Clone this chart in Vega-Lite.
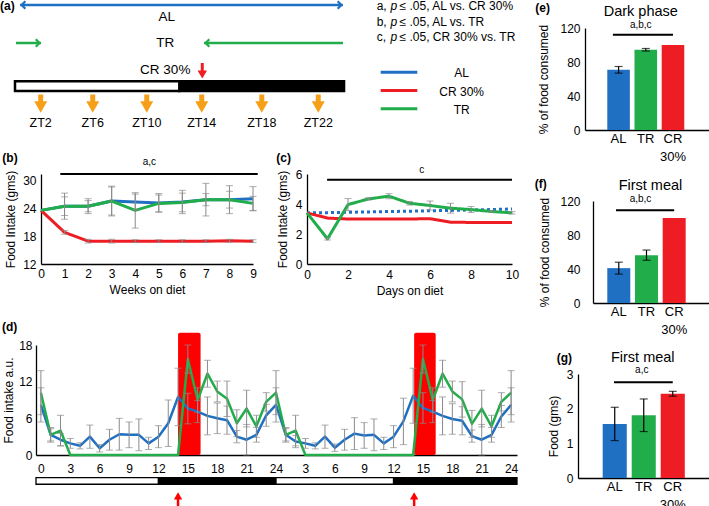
{
"$schema": "https://vega.github.io/schema/vega-lite/v6.json",
"padding": 0,
"background": "white",
"config": {
  "font": "Liberation Sans",
  "view": {"stroke": null},
  "axis": {"grid": false, "ticks": false, "domainColor": "#000", "domainWidth": 1.3, "labelColor": "#000", "labelFontSize": 12, "titleFontSize": 12, "titleFontWeight": "normal", "titleColor": "#000", "labelFont": "Liberation Sans", "titleFont": "Liberation Sans", "labelPadding": 4, "titlePadding": 5, "labelOverlap": false, "labelFlush": false, "labelBound": false},
  "text": {"font": "Liberation Sans", "color": "#000"}
},
"datasets": {
  "weeks": [
    {"week":0,"group":"AL","intake":23.5,"err":0},{"week":1,"group":"AL","intake":24.4,"err":2.0},{"week":2,"group":"AL","intake":24.4,"err":1.6},{"week":3,"group":"AL","intake":25.5,"err":3.2},{"week":4,"group":"AL","intake":25.3,"err":1.7},{"week":5,"group":"AL","intake":25.1,"err":2.0},{"week":6,"group":"AL","intake":25.3,"err":2.5},{"week":7,"group":"AL","intake":25.8,"err":3.5},{"week":8,"group":"AL","intake":25.8,"err":3.0},{"week":9,"group":"AL","intake":26.0,"err":2.6},
    {"week":0,"group":"CR 30%","intake":23.5,"err":0},{"week":1,"group":"CR 30%","intake":18.8,"err":0.4},{"week":2,"group":"CR 30%","intake":16.9,"err":0.4},{"week":3,"group":"CR 30%","intake":16.9,"err":0.4},{"week":4,"group":"CR 30%","intake":16.9,"err":0.3},{"week":5,"group":"CR 30%","intake":16.9,"err":0.3},{"week":6,"group":"CR 30%","intake":16.9,"err":0.3},{"week":7,"group":"CR 30%","intake":16.9,"err":0.3},{"week":8,"group":"CR 30%","intake":17.0,"err":0.3},{"week":9,"group":"CR 30%","intake":16.9,"err":0.3},
    {"week":0,"group":"TR","intake":23.5,"err":0},{"week":1,"group":"TR","intake":24.4,"err":2.8},{"week":2,"group":"TR","intake":24.4,"err":1.2},{"week":3,"group":"TR","intake":25.5,"err":3.0},{"week":4,"group":"TR","intake":23.5,"err":3.8},{"week":5,"group":"TR","intake":25.0,"err":1.8},{"week":6,"group":"TR","intake":25.2,"err":2.0},{"week":7,"group":"TR","intake":25.8,"err":1.3},{"week":8,"group":"TR","intake":25.8,"err":1.8},{"week":9,"group":"TR","intake":25.0,"err":1.5}
  ],
  "days": [
    {"day":0,"group":"AL","intake":3.41,"err":0},{"day":1,"group":"AL","intake":3.42,"err":0},{"day":2,"group":"AL","intake":3.45,"err":0},{"day":3,"group":"AL","intake":3.47,"err":0},{"day":4,"group":"AL","intake":3.5,"err":0},{"day":5,"group":"AL","intake":3.52,"err":0},{"day":6,"group":"AL","intake":3.55,"err":0},{"day":7,"group":"AL","intake":3.57,"err":0},{"day":8,"group":"AL","intake":3.6,"err":0},{"day":9,"group":"AL","intake":3.63,"err":0},{"day":10,"group":"AL","intake":3.67,"err":0},
    {"day":0,"group":"CR 30%","intake":3.41,"err":0},{"day":1,"group":"CR 30%","intake":3.06,"err":0},{"day":2,"group":"CR 30%","intake":3.0,"err":0},{"day":3,"group":"CR 30%","intake":3.0,"err":0},{"day":4,"group":"CR 30%","intake":3.0,"err":0},{"day":5,"group":"CR 30%","intake":3.0,"err":0},{"day":6,"group":"CR 30%","intake":3.02,"err":0},{"day":7,"group":"CR 30%","intake":2.79,"err":0},{"day":8,"group":"CR 30%","intake":2.77,"err":0},{"day":9,"group":"CR 30%","intake":2.76,"err":0},{"day":10,"group":"CR 30%","intake":2.77,"err":0},
    {"day":0,"group":"TR","intake":3.41,"err":0},{"day":1,"group":"TR","intake":1.68,"err":0.08},{"day":2,"group":"TR","intake":3.96,"err":0.4},{"day":3,"group":"TR","intake":4.34,"err":0.07},{"day":4,"group":"TR","intake":4.52,"err":0.17},{"day":5,"group":"TR","intake":4.05,"err":0.12},{"day":6,"group":"TR","intake":3.9,"err":0.3},{"day":7,"group":"TR","intake":3.72,"err":0.33},{"day":8,"group":"TR","intake":3.63,"err":0.2},{"day":9,"group":"TR","intake":3.5,"err":0.05},{"day":10,"group":"TR","intake":3.41,"err":0.08}
  ],
  "hourly": [
    {"hour":0,"group":"AL","intake":8.2,"err":2.8},{"hour":1,"group":"AL","intake":3.3,"err":1.2},{"hour":2,"group":"AL","intake":2.5,"err":1.0},{"hour":3,"group":"AL","intake":1.9,"err":0.8},{"hour":4,"group":"AL","intake":1.5,"err":0.5},{"hour":5,"group":"AL","intake":3.0,"err":1.9},{"hour":6,"group":"AL","intake":1.1,"err":0.6},{"hour":7,"group":"AL","intake":2.5,"err":1.7},{"hour":8,"group":"AL","intake":3.4,"err":2.6},{"hour":9,"group":"AL","intake":3.3,"err":2.1},{"hour":10,"group":"AL","intake":3.3,"err":2.6},{"hour":11,"group":"AL","intake":1.9,"err":1.0},{"hour":12,"group":"AL","intake":3.0,"err":1.8},{"hour":13,"group":"AL","intake":5.2,"err":3.8},{"hour":14,"group":"AL","intake":9.5,"err":4.7},{"hour":15,"group":"AL","intake":7.6,"err":2.5},{"hour":16,"group":"AL","intake":7.1,"err":1.8},{"hour":17,"group":"AL","intake":6.4,"err":3.1},{"hour":18,"group":"AL","intake":6.0,"err":2.5},{"hour":19,"group":"AL","intake":5.7,"err":2.3},{"hour":20,"group":"AL","intake":3.0,"err":1.0},{"hour":21,"group":"AL","intake":2.5,"err":2.5},{"hour":22,"group":"AL","intake":3.3,"err":1.2},{"hour":23,"group":"AL","intake":6.5,"err":1.8},{"hour":24,"group":"AL","intake":8.2,"err":2.8},
    {"hour":25,"group":"AL","intake":3.3,"err":1.2},{"hour":26,"group":"AL","intake":2.2,"err":1.0},{"hour":27,"group":"AL","intake":1.9,"err":0.8},{"hour":28,"group":"AL","intake":1.5,"err":0.5},{"hour":29,"group":"AL","intake":3.0,"err":1.9},{"hour":30,"group":"AL","intake":1.2,"err":0.6},{"hour":31,"group":"AL","intake":2.5,"err":1.7},{"hour":32,"group":"AL","intake":3.5,"err":2.6},{"hour":33,"group":"AL","intake":3.2,"err":2.1},{"hour":34,"group":"AL","intake":3.3,"err":2.6},{"hour":35,"group":"AL","intake":1.9,"err":1.0},{"hour":36,"group":"AL","intake":3.0,"err":1.8},{"hour":37,"group":"AL","intake":5.5,"err":3.8},{"hour":38,"group":"AL","intake":9.7,"err":4.5},{"hour":39,"group":"AL","intake":7.7,"err":2.5},{"hour":40,"group":"AL","intake":7.1,"err":1.8},{"hour":41,"group":"AL","intake":6.4,"err":3.1},{"hour":42,"group":"AL","intake":5.9,"err":2.5},{"hour":43,"group":"AL","intake":5.6,"err":2.3},{"hour":44,"group":"AL","intake":3.1,"err":1.0},{"hour":45,"group":"AL","intake":2.5,"err":2.5},{"hour":46,"group":"AL","intake":3.3,"err":1.2},{"hour":47,"group":"AL","intake":6.3,"err":1.8},{"hour":48,"group":"AL","intake":8.2,"err":2.8},
    {"hour":0,"group":"TR","intake":10.2,"err":3.6},{"hour":1,"group":"TR","intake":3.3,"err":1.0},{"hour":2,"group":"TR","intake":4.0,"err":2.5},{"hour":3,"group":"TR","intake":0,"err":0},{"hour":4,"group":"TR","intake":0,"err":0},{"hour":5,"group":"TR","intake":0,"err":0},{"hour":6,"group":"TR","intake":0,"err":0},{"hour":7,"group":"TR","intake":0,"err":0},{"hour":8,"group":"TR","intake":0,"err":0},{"hour":9,"group":"TR","intake":0,"err":0},{"hour":10,"group":"TR","intake":0,"err":0},{"hour":11,"group":"TR","intake":0,"err":0},{"hour":12,"group":"TR","intake":0,"err":0},{"hour":13,"group":"TR","intake":0,"err":0},{"hour":14,"group":"TR","intake":0,"err":0},{"hour":15,"group":"TR","intake":15.7,"err":2.3},{"hour":16,"group":"TR","intake":9.0,"err":2.0},{"hour":17,"group":"TR","intake":13.3,"err":2.2},{"hour":18,"group":"TR","intake":10.4,"err":1.7},{"hour":19,"group":"TR","intake":9.2,"err":2.9},{"hour":20,"group":"TR","intake":5.2,"err":2.2},{"hour":21,"group":"TR","intake":7.6,"err":3.0},{"hour":22,"group":"TR","intake":4.7,"err":1.8},{"hour":23,"group":"TR","intake":8.7,"err":1.5},{"hour":24,"group":"TR","intake":10.2,"err":3.6},
    {"hour":25,"group":"TR","intake":3.3,"err":1.0},{"hour":26,"group":"TR","intake":4.0,"err":2.5},{"hour":27,"group":"TR","intake":0,"err":0},{"hour":28,"group":"TR","intake":0,"err":0},{"hour":29,"group":"TR","intake":0,"err":0},{"hour":30,"group":"TR","intake":0,"err":0},{"hour":31,"group":"TR","intake":0,"err":0},{"hour":32,"group":"TR","intake":0,"err":0},{"hour":33,"group":"TR","intake":0,"err":0},{"hour":34,"group":"TR","intake":0,"err":0},{"hour":35,"group":"TR","intake":0,"err":0},{"hour":36,"group":"TR","intake":0,"err":0},{"hour":37,"group":"TR","intake":0,"err":0},{"hour":38,"group":"TR","intake":0,"err":0},{"hour":39,"group":"TR","intake":15.7,"err":2.3},{"hour":40,"group":"TR","intake":9.0,"err":2.0},{"hour":41,"group":"TR","intake":13.3,"err":2.2},{"hour":42,"group":"TR","intake":10.4,"err":1.7},{"hour":43,"group":"TR","intake":9.1,"err":2.9},{"hour":44,"group":"TR","intake":5.1,"err":2.2},{"hour":45,"group":"TR","intake":7.6,"err":3.0},{"hour":46,"group":"TR","intake":4.7,"err":1.8},{"hour":47,"group":"TR","intake":8.7,"err":1.5},{"hour":48,"group":"TR","intake":10.2,"err":3.6}
  ],
  "meals": [{"start":14.0,"end":16.3},{"start":38.1,"end":40.3}],
  "phases": [{"phase":"light","start":-0.5,"end":12},{"phase":"dark","start":12,"end":24},{"phase":"light","start":24,"end":36},{"phase":"dark","start":36,"end":48.6}],
  "dark": [{"group":"AL","pct":70.8,"err":3.9},{"group":"TR","pct":94.4,"err":1.5},{"group":"CR 30%","pct":100,"err":0}],
  "firstpct": [{"group":"AL","pct":41,"err":7},{"group":"TR","pct":56.3,"err":6},{"group":"CR 30%","pct":100,"err":0}],
  "firstgms": [{"group":"AL","gms":1.56,"err":0.48},{"group":"TR","gms":1.81,"err":0.47},{"group":"CR 30%","gms":2.43,"err":0.07}],
  "zt": [{"zt":"ZT2","hour":1.875},{"zt":"ZT6","hour":5.67},{"zt":"ZT10","hour":9.61},{"zt":"ZT14","hour":13.62},{"zt":"ZT18","hour":18.0},{"zt":"ZT22","hour":22.12}]
},
"vconcat": [
  {"hconcat": [
    {"width": 319, "height": 135,
     "layer": [
      {"data": {"values": [{"regimen":"AL","start":0.37,"end":23.92}]},
       "mark": {"type":"rule","color":"#1F6FC3","strokeWidth":2.5},
       "encoding": {"x":{"field":"start","type":"quantitative","scale":{"domain":[1.532,24.8],"nice":false,"zero":false},"axis":null},"x2":{"field":"end"},"y":{"datum":1.0,"type":"quantitative","scale":{"domain":[0,27],"reverse":true,"nice":false,"zero":false},"axis":null}}},
      {"data": {"values": [{"hour":0.37,"dir":"left"},{"hour":23.92,"dir":"right"}]},
       "mark": {"type":"point","filled":true,"color":"#1F6FC3","opacity":1,"size":80},
       "encoding": {"x":{"field":"hour","type":"quantitative"},"y":{"datum":1.0,"type":"quantitative"},"shape":{"field":"dir","type":"nominal","scale":{"domain":["left","right"],"range":["M0,0L1,-1L1.354,-0.646L0.707,0L1.354,0.646L1,1Z","M0,0L-1,-1L-1.354,-0.646L-0.707,0L-1.354,0.646L-1,1Z"]},"legend":null}}},
      {"data": {"values": [{"regimen":"TR","start":0.07,"end":1.9},{"regimen":"TR","start":23.92,"end":13.79}]},
       "mark": {"type":"rule","color":"#22AD4B","strokeWidth":2.5},
       "encoding": {"x":{"field":"start","type":"quantitative"},"x2":{"field":"end"},"y":{"datum":8.6,"type":"quantitative"}}},
      {"data": {"values": [{"hour":1.9,"dir":"right"},{"hour":13.79,"dir":"left"}]},
       "mark": {"type":"point","filled":true,"color":"#22AD4B","opacity":1,"size":80},
       "encoding": {"x":{"field":"hour","type":"quantitative"},"y":{"datum":8.6,"type":"quantitative"},"shape":{"field":"dir","type":"nominal","scale":{"domain":["left","right"],"range":["M0,0L1,-1L1.354,-0.646L0.707,0L1.354,0.646L1,1Z","M0,0L-1,-1L-1.354,-0.646L-0.707,0L-1.354,0.646L-1,1Z"]},"legend":null}}},
      {"data": {"values": [{"label":"AL","hour":11.06}]},
       "mark": {"type":"text","fontSize":13.5},
       "encoding": {"x":{"field":"hour","type":"quantitative"},"y":{"datum":3.4,"type":"quantitative"},"text":{"field":"label"}}},
      {"data": {"values": [{"label":"TR","hour":10.96}]},
       "mark": {"type":"text","fontSize":13.5},
       "encoding": {"x":{"field":"hour","type":"quantitative"},"y":{"datum":8.67,"type":"quantitative"},"text":{"field":"label"}}},
      {"data": {"values": [{"label":"CR 30%","hour":10.96}]},
       "mark": {"type":"text","fontSize":13.5},
       "encoding": {"x":{"field":"hour","type":"quantitative"},"y":{"datum":14.0,"type":"quantitative"},"text":{"field":"label"}}},
      {"data": {"values": [{"hour":13.66}]},
       "mark": {"type":"rule","color":"#EE1D23","strokeWidth":3},
       "encoding": {"x":{"field":"hour","type":"quantitative"},"y":{"datum":12.6,"type":"quantitative"},"y2":{"datum":14.4}}},
      {"data": {"values": [{"hour":13.66}]},
       "mark": {"type":"point","shape":"triangle-down","filled":true,"color":"#EE1D23","opacity":1,"size":90},
       "encoding": {"x":{"field":"hour","type":"quantitative"},"y":{"datum":14.9,"type":"quantitative"}}},
      {"data": {"values": [{"phase":"light","start":0,"end":12},{"phase":"dark","start":12,"end":24}]},
       "mark": {"type":"rect","stroke":"#000","strokeWidth":2.5},
       "encoding": {"x":{"field":"start","type":"quantitative"},"x2":{"field":"end"},"y":{"datum":16.25,"type":"quantitative"},"y2":{"datum":18.2},"fill":{"field":"phase","type":"nominal","scale":{"domain":["light","dark"],"range":["#FFFFFF","#000000"]},"legend":null}}},
      {"data": {"name": "zt"},
       "mark": {"type":"rule","color":"#F6A01A","strokeWidth":5},
       "encoding": {"x":{"field":"hour","type":"quantitative"},"y":{"datum":18.9,"type":"quantitative"},"y2":{"datum":20.4}}},
      {"data": {"name": "zt"},
       "mark": {"type":"point","shape":"triangle-down","filled":true,"color":"#F6A01A","opacity":1,"size":170},
       "encoding": {"x":{"field":"hour","type":"quantitative"},"y":{"datum":21.4,"type":"quantitative"}}},
      {"data": {"name": "zt"},
       "mark": {"type":"text","fontSize":12.5},
       "encoding": {"x":{"field":"hour","type":"quantitative"},"y":{"datum":24.6,"type":"quantitative"},"text":{"field":"zt"}}},
      {"data": {"values": [{"panel":"(a)"}]},
       "mark": {"type":"text","fontSize":12,"fontWeight":"bold","align":"left"},
       "encoding": {"x":{"datum":-1.09,"type":"quantitative"},"y":{"datum":1.2,"type":"quantitative"},"text":{"field":"panel"}}}
     ]},
    {"width": 157, "height": 174,
     "resolve": {"scale": {"y": "independent"}},
     "layer": [
      {"data": {"values": [{"tag":"a,","rest":"≤ .05, AL vs. CR 30%"},{"tag":"b,","rest":"≤ .05, AL vs. TR"},{"tag":"c,","rest":"≤ .05, CR 30% vs. TR"}]},
       "layer": [
        {"mark": {"type":"text","align":"left","fontSize":12},
         "encoding": {"x":{"datum":21.7,"type":"quantitative","scale":{"domain":[0,157],"nice":false,"zero":false},"axis":null},"y":{"field":"tag","type":"nominal","scale":{"type":"point","range":[6.3,37.3],"padding":0},"axis":null},"text":{"field":"tag"}}},
        {"mark": {"type":"text","align":"left","fontSize":12,"fontStyle":"italic","text":"p"},
         "encoding": {"x":{"datum":35.4,"type":"quantitative"},"y":{"field":"tag","type":"nominal","scale":{"type":"point","range":[6.3,37.3],"padding":0},"axis":null}}},
        {"mark": {"type":"text","align":"left","fontSize":12},
         "encoding": {"x":{"datum":44.6,"type":"quantitative"},"y":{"field":"tag","type":"nominal","scale":{"type":"point","range":[6.3,37.3],"padding":0},"axis":null},"text":{"field":"rest"}}}
       ]},
      {"data": {"values": [{"group":"AL"},{"group":"CR 30%"},{"group":"TR"}]},
       "layer": [
        {"mark": {"type":"rule","strokeWidth":3},
         "encoding": {"x":{"datum":25.7,"type":"quantitative"},"x2":{"datum":62.3},"y":{"field":"group","type":"nominal","scale":{"type":"point","range":[72.3,108.7],"padding":0,"domain":["AL","CR 30%","TR"]},"axis":null},"color":{"field":"group","type":"nominal","scale":{"domain":["AL","CR 30%","TR"],"range":["#1F6FC3","#EE1D23","#22AD4B"]},"legend":null}}},
        {"mark": {"type":"text","fontSize":12,"dy":1},
         "encoding": {"x":{"datum":106.7,"type":"quantitative"},"y":{"field":"group","type":"nominal","scale":{"type":"point","range":[72.3,108.7],"padding":0,"domain":["AL","CR 30%","TR"]},"axis":null},"text":{"field":"group"}}}
       ]}
     ]}
   ], "spacing": 0, "bounds": "flush"},
  {"width": 1, "height": 28, "data": {"values": []}, "mark": "point"},
  {"hconcat": [
    {"width": 549, "height": 1, "data": {"values": []}, "mark": "point"},
    {"width": 124, "height": 102,
     "layer": [
      {"data": {"name":"dark"},
       "mark": {"type":"bar"},
       "encoding": {
         "x":{"field":"group","type":"nominal","scale":{"domain":["AL","TR","CR 30%"],"paddingInner":0.17,"paddingOuter":0.864,"align":0.474},"axis":{"title":null,"labelAngle":0,"labelExpr":"datum.label == 'CR 30%' ? ['CR','30%'] : datum.label","labelPadding":2,"labelFontSize":13,"labelLineHeight":18.5,"labelOverlap":false}},
         "y":{"field":"pct","type":"quantitative","scale":{"domain":[0,120],"nice":false},"axis":{"values":[0,40,80,120],"tickCount":30,"format":"d","title":"% of food consumed","labelPadding":5,"titlePadding":9,"labelOverlap":false}},
         "color":{"field":"group","type":"nominal","scale":{"domain":["AL","TR","CR 30%"],"range":["#1A6FC6","#1FB04D","#FF1010"]},"legend":null}}},
      {"data": {"name":"dark"}, "transform":[{"filter":"datum.err > 0"}],
       "mark": {"type":"errorbar","ticks":true,"size":8,"thickness":1.2,"color":"#000"},
       "encoding": {"x":{"field":"group","type":"nominal","title":null},"y":{"field":"pct","type":"quantitative","title":"% of food consumed","axis":{"values":[0,40,80,120],"tickCount":30,"format":"d","labelOverlap":false}},"yError":{"field":"err"}}},
      {"data": {"values":[{"label":"a,b,c"}]},
       "mark": {"type":"rule","color":"#000","strokeWidth":2},
       "encoding": {"x":{"datum":"AL","type":"nominal","bandPosition":0.25},"x2":{"datum":"CR 30%"},"y":{"datum":112,"type":"quantitative"}}},
      {"data": {"values":[{"label":"a,b,c"}]},
       "mark": {"type":"text","fontSize":10,"dx":-5},
       "encoding": {"x":{"datum":"TR","type":"nominal"},"y":{"datum":123,"type":"quantitative"},"text":{"field":"label"}}},
      {"data": {"values":[{"label":"Dark  phase"}]},
       "mark": {"type":"text","fontSize":14.5,"dx":-5},
       "encoding": {"x":{"datum":"TR","type":"nominal"},"y":{"datum":138.9,"type":"quantitative"},"text":{"field":"label"}}},
      {"data": {"values":[{"panel":"(e)"}]},
       "mark": {"type":"text","fontSize":12,"fontWeight":"bold","align":"left","dx":-83.3},
       "encoding": {"x":{"datum":"AL","type":"nominal"},"y":{"datum":143.9,"type":"quantitative"},"text":{"field":"panel"}}}
     ]}
   ], "spacing": 0, "bounds": "flush"},
  {"width": 1, "height": 146, "data": {"values": []}, "mark": "point"},
  {"hconcat": [
    {"width": 5, "height": 1, "data": {"values": []}, "mark": "point"},
    {"width": 212, "height": 90,
     "layer": [
      {"data": {"name":"weeks"},
       "mark": {"type":"line","strokeWidth":3,"strokeJoin":"round"},
       "encoding": {
         "x":{"field":"week","type":"quantitative","scale":{"domain":[0,9],"nice":false,"zero":false},"axis":{"values":[0,1,2,3,4,5,6,7,8,9],"tickCount":30,"format":"d","title":"Weeks on diet","labelPadding":4,"titlePadding":5,"labelOverlap":false}},
         "y":{"field":"intake","type":"quantitative","scale":{"domain":[12,31.3],"nice":false,"zero":false},"axis":{"values":[12,18,24,30],"tickCount":30,"format":"d","title":"Food Intake (gms)","labelPadding":5,"titlePadding":5,"labelOverlap":false}},
         "color":{"field":"group","type":"nominal","scale":{"domain":["AL","CR 30%","TR"],"range":["#1F6FC3","#EE1D23","#22AD4B"]},"legend":null}}},
      {"data": {"name":"weeks"}, "transform":[{"filter":"datum.err > 0"}],
       "mark": {"type":"errorbar","ticks":true,"size":7,"thickness":1,"color":"#8A8A8A"},
       "encoding": {"x":{"field":"week","type":"quantitative","title":"Weeks on diet","axis":{"values":[0,1,2,3,4,5,6,7,8,9],"tickCount":30,"format":"d","labelOverlap":false}},"y":{"field":"intake","type":"quantitative","title":"Food Intake (gms)","axis":{"values":[12,18,24,30],"tickCount":30,"format":"d","labelOverlap":false}},"yError":{"field":"err"}}},
      {"data": {"values":[{"label":"a,c","start":0.82,"end":9.2}]},
       "mark": {"type":"rule","color":"#000","strokeWidth":2},
       "encoding": {"x":{"field":"start","type":"quantitative"},"x2":{"field":"end"},"y":{"datum":31.3,"type":"quantitative"}}},
      {"data": {"values":[{"label":"a,c","at":4.6}]},
       "mark": {"type":"text","fontSize":10},
       "encoding": {"x":{"field":"at","type":"quantitative"},"y":{"datum":33.8,"type":"quantitative"},"text":{"field":"label"}}},
      {"data": {"values":[{"panel":"(b)"}]},
       "mark": {"type":"text","fontSize":12,"fontWeight":"bold","align":"left"},
       "encoding": {"x":{"datum":-1.64,"type":"quantitative"},"y":{"datum":34.8,"type":"quantitative"},"text":{"field":"panel"}}}
     ]},
    {"width": 54, "height": 1, "data": {"values": []}, "mark": "point"},
    {"width": 205, "height": 90,
     "layer": [
      {"data": {"name":"days"},
       "mark": {"type":"line","strokeWidth":3,"strokeJoin":"round"},
       "encoding": {
         "x":{"field":"day","type":"quantitative","scale":{"domain":[0,10],"nice":false,"zero":false},"axis":{"values":[0,2,4,6,8,10],"tickCount":30,"format":"d","title":"Days on diet","labelPadding":5,"titlePadding":5,"labelOverlap":false}},
         "y":{"field":"intake","type":"quantitative","scale":{"domain":[0,6],"nice":false,"zero":false},"axis":{"values":[0,2,4,6],"tickCount":30,"format":"d","title":"Food Intake (gms)","labelPadding":5,"titlePadding":6,"labelOverlap":false}},
         "color":{"field":"group","type":"nominal","scale":{"domain":["AL","CR 30%","TR"],"range":["#1F6FC3","#EE1D23","#22AD4B"]},"legend":null},
         "strokeDash":{"field":"group","type":"nominal","scale":{"domain":["AL","CR 30%","TR"],"range":[[3,3],[1,0],[1,0]]},"legend":null}}},
      {"data": {"name":"days"}, "transform":[{"filter":"datum.err > 0"}],
       "mark": {"type":"errorbar","ticks":true,"size":7,"thickness":1,"color":"#8A8A8A"},
       "encoding": {"x":{"field":"day","type":"quantitative","title":"Days on diet","axis":{"values":[0,2,4,6,8,10],"tickCount":30,"format":"d","labelOverlap":false}},"y":{"field":"intake","type":"quantitative","title":"Food Intake (gms)","axis":{"values":[0,2,4,6],"tickCount":30,"format":"d","labelOverlap":false}},"yError":{"field":"err"}}},
      {"data": {"values":[{"label":"c","start":0.98,"end":10}]},
       "mark": {"type":"rule","color":"#000","strokeWidth":2},
       "encoding": {"x":{"field":"start","type":"quantitative"},"x2":{"field":"end"},"y":{"datum":5.62,"type":"quantitative"}}},
      {"data": {"values":[{"label":"c","at":5.6}]},
       "mark": {"type":"text","fontSize":10},
       "encoding": {"x":{"field":"at","type":"quantitative"},"y":{"datum":6.29,"type":"quantitative"},"text":{"field":"label"}}},
      {"data": {"values":[{"panel":"(c)"}]},
       "mark": {"type":"text","fontSize":12,"fontWeight":"bold","align":"left"},
       "encoding": {"x":{"datum":-1.5,"type":"quantitative"},"y":{"datum":7.09,"type":"quantitative"},"text":{"field":"panel"}}}
     ]}
   ], "spacing": 0, "bounds": "flush"},
  {"width": 1, "height": 27, "data": {"values": []}, "mark": "point"},
  {"hconcat": [
    {"width": 557, "height": 1, "data": {"values": []}, "mark": "point"},
    {"width": 116, "height": 102,
     "layer": [
      {"data": {"name":"firstpct"},
       "mark": {"type":"bar"},
       "encoding": {
         "x":{"field":"group","type":"nominal","scale":{"domain":["AL","TR","CR 30%"],"paddingInner":0.17,"paddingOuter":0.679,"align":0.38},"axis":{"title":null,"labelAngle":0,"labelExpr":"datum.label == 'CR 30%' ? ['CR','30%'] : datum.label","labelPadding":2,"labelFontSize":13,"labelLineHeight":18.5,"labelOverlap":false}},
         "y":{"field":"pct","type":"quantitative","scale":{"domain":[0,120],"nice":false},"axis":{"values":[0,40,80,120],"tickCount":30,"format":"d","title":"% of food consumed","labelPadding":13,"titlePadding":8,"labelOverlap":false}},
         "color":{"field":"group","type":"nominal","scale":{"domain":["AL","TR","CR 30%"],"range":["#1A6FC6","#1FB04D","#FF1010"]},"legend":null}}},
      {"data": {"name":"firstpct"}, "transform":[{"filter":"datum.err > 0"}],
       "mark": {"type":"errorbar","ticks":true,"size":8,"thickness":1.2,"color":"#000"},
       "encoding": {"x":{"field":"group","type":"nominal","title":null},"y":{"field":"pct","type":"quantitative","title":"% of food consumed","axis":{"values":[0,40,80,120],"tickCount":30,"format":"d","labelOverlap":false}},"yError":{"field":"err"}}},
      {"data": {"values":[{"label":"a,b,c"}]},
       "mark": {"type":"rule","color":"#000","strokeWidth":2},
       "encoding": {"x":{"datum":"AL","type":"nominal","bandPosition":0.38},"x2":{"datum":"CR 30%"},"y":{"datum":109.1,"type":"quantitative"}}},
      {"data": {"values":[{"label":"a,b,c"}]},
       "mark": {"type":"text","fontSize":10,"dx":-6},
       "encoding": {"x":{"datum":"TR","type":"nominal"},"y":{"datum":122,"type":"quantitative"},"text":{"field":"label"}}},
      {"data": {"values":[{"label":"First meal"}]},
       "mark": {"type":"text","fontSize":14.5,"dx":4},
       "encoding": {"x":{"datum":"TR","type":"nominal"},"y":{"datum":137.6,"type":"quantitative"},"text":{"field":"label"}}},
      {"data": {"values":[{"panel":"(f)"}]},
       "mark": {"type":"text","fontSize":12,"fontWeight":"bold","align":"left","dx":-84},
       "encoding": {"x":{"datum":"AL","type":"nominal"},"y":{"datum":140,"type":"quantitative"},"text":{"field":"panel"}}}
     ]}
   ], "spacing": 0, "bounds": "flush"},
  {"width": 1, "height": 144, "data": {"values": []}, "mark": "point"},
  {"hconcat": [
    {"width": 481, "height": 110,
     "layer": [
      {"data": {"name":"meals"},
       "mark": {"type":"rect","color":"#FF0000","cornerRadius":2},
       "encoding": {"x":{"field":"start","type":"quantitative","scale":{"domain":[-0.5,48.6],"nice":false,"zero":false},"axis":{"values":[0,3,6,9,12,15,18,21,24,27,30,33,36,39,42,45,48],"tickCount":30,"labelExpr":"datum.value == 0 ? '0' : ((datum.value % 24) == 0 ? '24' : '' + (datum.value % 24))","title":null,"labelPadding":8,"labelOverlap":false}},"x2":{"field":"end"},"y":{"datum":0,"type":"quantitative","scale":{"domain":[0,18],"nice":false,"zero":false},"axis":{"values":[0,6,12,18],"tickCount":30,"format":"d","title":"Food intake a.u.","labelPadding":4,"titlePadding":3,"labelOverlap":false}},"y2":{"datum":20}}},
      {"data": {"name":"hourly"},
       "mark": {"type":"line","strokeWidth":2.5,"strokeJoin":"round"},
       "encoding": {
         "x":{"field":"hour","type":"quantitative","axis":{"values":[0,3,6,9,12,15,18,21,24,27,30,33,36,39,42,45,48],"tickCount":30,"labelExpr":"datum.value == 0 ? '0' : ((datum.value % 24) == 0 ? '24' : '' + (datum.value % 24))","title":null,"labelPadding":8,"labelOverlap":false}},
         "y":{"field":"intake","type":"quantitative","axis":{"values":[0,6,12,18],"tickCount":30,"format":"d","title":"Food intake a.u.","labelPadding":4,"titlePadding":3,"labelOverlap":false}},
         "color":{"field":"group","type":"nominal","scale":{"domain":["AL","CR 30%","TR"],"range":["#1F6FC3","#EE1D23","#22AD4B"]},"legend":null}}},
      {"data": {"name":"hourly"}, "transform":[{"filter":"datum.err > 0"}],
       "mark": {"type":"errorbar","ticks":true,"size":7,"thickness":1,"color":"#8A8A8A"},
       "encoding": {"x":{"field":"hour","type":"quantitative","title":null,"axis":{"values":[0,3,6,9,12,15,18,21,24,27,30,33,36,39,42,45,48],"tickCount":30,"labelExpr":"datum.value == 0 ? '0' : ((datum.value % 24) == 0 ? '24' : '' + (datum.value % 24))","labelOverlap":false}},"y":{"field":"intake","type":"quantitative","title":"Food intake a.u.","axis":{"values":[0,6,12,18],"tickCount":30,"format":"d","labelOverlap":false}},"yError":{"field":"err"}}},
      {"data": {"name":"phases"},
       "mark": {"type":"rect","stroke":"#000","strokeWidth":1.3},
       "encoding": {"x":{"field":"start","type":"quantitative"},"x2":{"field":"end"},"y":{"datum":-3.71,"type":"quantitative"},"y2":{"datum":-4.79},"fill":{"field":"phase","type":"nominal","scale":{"domain":["light","dark"],"range":["#FFFFFF","#000000"]},"legend":null}}},
      {"data": {"name":"meals"},
       "mark": {"type":"rule","color":"#FF0000","strokeWidth":2.5},
       "encoding": {"x":{"field":"start","type":"quantitative"},"y":{"datum":-7.1,"type":"quantitative"},"y2":{"datum":-8.8}}},
      {"data": {"name":"meals"},
       "mark": {"type":"point","shape":"triangle-up","filled":true,"color":"#FF0000","opacity":1,"size":70},
       "encoding": {"x":{"field":"start","type":"quantitative"},"y":{"datum":-6.7,"type":"quantitative"}}},
      {"data": {"values":[{"panel":"(d)"}]},
       "mark": {"type":"text","fontSize":12,"fontWeight":"bold","align":"left"},
       "encoding": {"x":{"datum":-3.98,"type":"quantitative"},"y":{"datum":21.0,"type":"quantitative"},"text":{"field":"panel"}}}
     ]}
   ], "spacing": 0, "bounds": "flush"},
  {"width": 1, "height": 29, "data": {"values": []}, "mark": "point"},
  {"hconcat": [
    {"width": 542, "height": 1, "data": {"values": []}, "mark": "point"},
    {"width": 131, "height": 104,
     "layer": [
      {"data": {"name":"firstgms"},
       "mark": {"type":"bar"},
       "encoding": {
         "x":{"field":"group","type":"nominal","scale":{"domain":["AL","TR","CR 30%"],"paddingInner":0.17,"paddingOuter":0.843,"align":0.505},"axis":{"title":null,"labelAngle":0,"labelExpr":"datum.label == 'CR 30%' ? ['CR','30%'] : datum.label","labelPadding":2,"labelFontSize":13,"labelLineHeight":18.5,"labelOverlap":false}},
         "y":{"field":"gms","type":"quantitative","scale":{"domain":[0,3],"nice":false},"axis":{"values":[0,1,2,3],"tickCount":30,"format":"d","title":"Food (gms)","labelPadding":5,"titlePadding":6,"labelOverlap":false}},
         "color":{"field":"group","type":"nominal","scale":{"domain":["AL","TR","CR 30%"],"range":["#1A6FC6","#1FB04D","#FF1010"]},"legend":null}}},
      {"data": {"name":"firstgms"}, "transform":[{"filter":"datum.err > 0"}],
       "mark": {"type":"errorbar","ticks":true,"size":8,"thickness":1.2,"color":"#000"},
       "encoding": {"x":{"field":"group","type":"nominal","title":null},"y":{"field":"gms","type":"quantitative","title":"Food (gms)","axis":{"values":[0,1,2,3],"tickCount":30,"format":"d","labelOverlap":false}},"yError":{"field":"err"}}},
      {"data": {"values":[{"label":"a,c"}]},
       "mark": {"type":"rule","color":"#000","strokeWidth":2},
       "encoding": {"x":{"datum":"AL","type":"nominal","bandPosition":0.47},"x2":{"datum":"CR 30%"},"y":{"datum":2.76,"type":"quantitative"}}},
      {"data": {"values":[{"label":"a,c"}]},
       "mark": {"type":"text","fontSize":10,"dx":-2},
       "encoding": {"x":{"datum":"TR","type":"nominal"},"y":{"datum":3.12,"type":"quantitative"},"text":{"field":"label"}}},
      {"data": {"values":[{"label":"First meal"}]},
       "mark": {"type":"text","fontSize":14.5,"dx":-1},
       "encoding": {"x":{"datum":"TR","type":"nominal"},"y":{"datum":3.47,"type":"quantitative"},"text":{"field":"label"}}},
      {"data": {"values":[{"panel":"(g)"}]},
       "mark": {"type":"text","fontSize":12,"fontWeight":"bold","align":"left","dx":-58},
       "encoding": {"x":{"datum":"AL","type":"nominal"},"y":{"datum":3.47,"type":"quantitative"},"text":{"field":"panel"}}}
     ]}
   ], "spacing": 0, "bounds": "flush"}
],
"spacing": 0,
"bounds": "flush"
}
